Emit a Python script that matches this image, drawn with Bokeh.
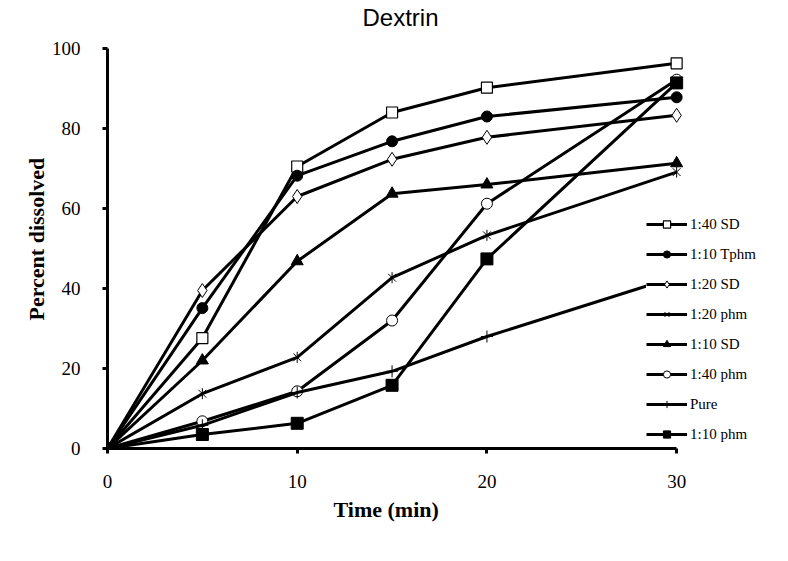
from bokeh.plotting import figure
from bokeh.models import Range1d, Legend, LegendItem, FixedTicker, Title, Label
from bokeh.embed import file_html
from bokeh.resources import INLINE
import math

time = [0, 5, 10, 15, 20, 30]
sd_1_40 = [0, 27.6, 70.5, 84.0, 90.2, 96.3]
tphm_1_10 = [0, 35.1, 68.2, 76.8, 83.0, 87.8]
sd_1_20 = [0, 39.5, 63.0, 72.3, 77.8, 83.3]
phm_1_20 = [0, 13.7, 22.8, 42.7, 53.3, 69.1]
sd_1_10 = [0, 22.0, 46.8, 63.7, 66.0, 71.3]
phm_1_40 = [0, 6.8, 14.3, 32.0, 61.2, 92.2]
pure = [0, 5.8, 14.0, 19.3, 28.0, 43.0]
phm_1_10 = [0, 3.5, 6.3, 15.8, 47.4, 91.4]

series_labels = ["1:40 SD", "1:10 Tphm", "1:20 SD", "1:20 phm", "1:10 SD", "1:40 phm", "Pure", "1:10 phm"]
x_ticks = [0, 10, 20, 30]
y_ticks = [0, 20, 40, 60, 80, 100]

W, H = 772, 545
p = figure(width=W, height=H, output_backend="svg", toolbar_location=None,
           x_range=Range1d(0, 35), y_range=Range1d(0, 112),
           min_border_left=107, min_border_right=1, min_border_top=0, min_border_bottom=97)
p.outline_line_color = None
p.grid.visible = False
p.background_fill_color = "white"
p.border_fill_color = "white"

for ax in (p.xaxis[0], p.yaxis[0]):
    ax.axis_line_width = 3
    ax.axis_line_color = "black"
    ax.major_tick_line_width = 3
    ax.major_tick_line_color = "black"
    ax.major_tick_out = 5
    ax.major_tick_in = 0
    ax.minor_tick_line_color = None
    ax.major_label_text_font = "Liberation Serif"
    ax.major_label_text_font_size = "19px"
    ax.major_label_text_color = "black"

p.xaxis.ticker = FixedTicker(ticks=x_ticks)
p.yaxis.ticker = FixedTicker(ticks=y_ticks)
p.xaxis.bounds = (0, 30)
p.yaxis.bounds = (0, 100)
p.xaxis.major_label_standoff = 21
p.yaxis.major_label_standoff = 22

# chart title (inside the extended frame area)
title = Label(x=293, y=431, x_units="screen", y_units="screen", text="Dextrin",
              text_align="center", text_baseline="middle", text_font="Liberation Sans",
              text_font_size="24px", text_color="black")
p.add_layout(title)

# axis titles, positioned along the drawn axis extent
xlab = Title(text="Time (min)", align="left", offset=226, vertical_align="top", standoff=12,
             text_font="Liberation Serif", text_font_size="22px", text_font_style="bold", text_color="black")
p.add_layout(xlab, "below")
ylab = Title(text="Percent dissolved", align="left", offset=128, vertical_align="bottom", standoff=0,
             text_font="Liberation Serif", text_font_size="22px", text_font_style="bold", text_color="black")
p.add_layout(ylab, "left")

LW = 3
items = []

def add(label, ys, marker_specs):
    l = p.line(time, ys, line_color="black", line_width=LW)
    rs = [l]
    for spec in marker_specs:
        rs.append(p.scatter(time, ys, **spec))
    items.append(LegendItem(label=label, renderers=rs))

add("1:40 SD", sd_1_40, [dict(marker="square", size=11, fill_color="white", line_color="black", line_width=1.2)])
add("1:10 Tphm", tphm_1_10, [dict(marker="circle", size=11, fill_color="black", line_color="black")])
add("1:20 SD", sd_1_20, [dict(marker="diamond", size=14, fill_color="white", line_color="black", line_width=1)])
add("1:20 phm", phm_1_20, [dict(marker="x", size=11, line_color="black", line_width=1),
                           dict(marker="dash", size=11, angle=math.pi / 2, line_color="black", line_width=1)])
add("1:10 SD", sd_1_10, [dict(marker="triangle", size=12, fill_color="black", line_color="black")])
add("1:40 phm", phm_1_40, [dict(marker="circle", size=11, fill_color="white", line_color="black", line_width=1)])
add("Pure", pure, [dict(marker="cross", size=12, line_color="black", line_width=1)])
add("1:10 phm", phm_1_10, [dict(marker="square", size=12, fill_color="black", line_color="black")])

legend = Legend(items=items, location=(539, 5), padding=1, margin=0,
                glyph_width=41, glyph_height=18, label_height=18, spacing=12,
                label_standoff=3, label_text_font="Liberation Serif", label_text_font_size="15px",
                label_text_color="black", border_line_color=None,
                background_fill_color="white", background_fill_alpha=1.0)
p.add_layout(legend, "center")

open("out.html", "w").write(file_html(p, INLINE))
